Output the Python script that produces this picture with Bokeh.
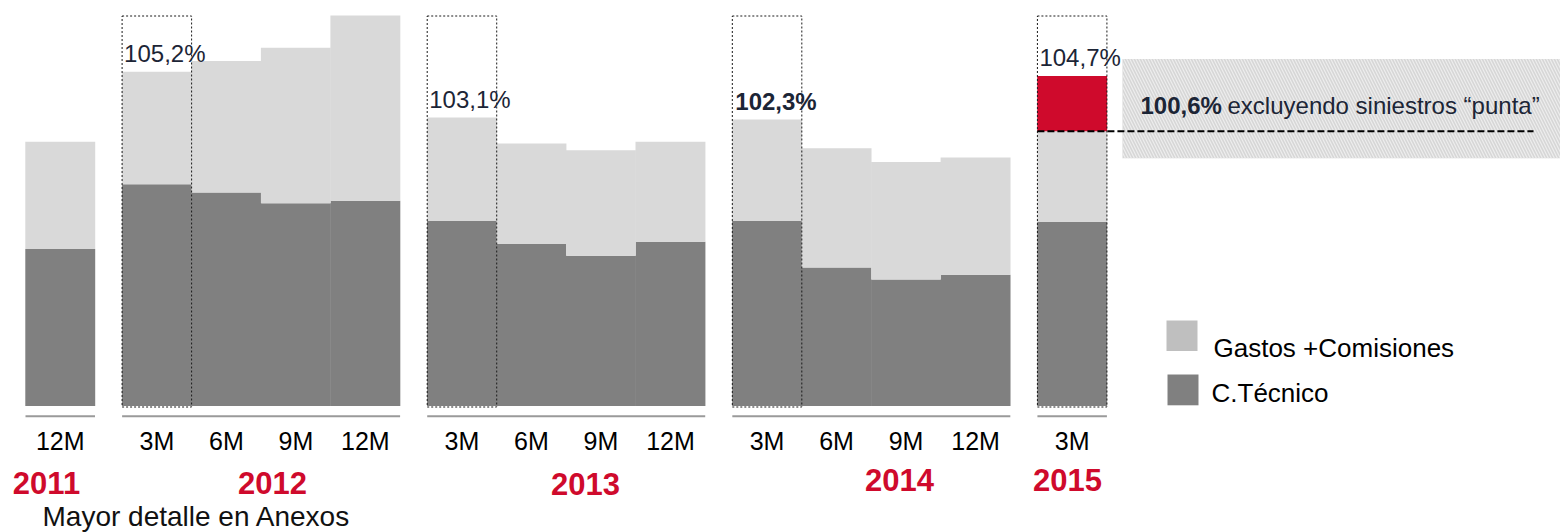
from bokeh.plotting import figure
from bokeh.models import ColumnDataSource, Range1d
from bokeh.embed import file_html
from bokeh.resources import INLINE
from bokeh.core.properties import value

# ---------------- data ----------------
years = ["2011", "2012", "2013", "2014", "2015"]
periods = [["12M"], ["3M", "6M", "9M", "12M"], ["3M", "6M", "9M", "12M"],
           ["3M", "6M", "9M", "12M"], ["3M"]]
c_tecnico = [49.4, 69.8, 67.2, 63.8, 64.6, 58.2, 51.0, 47.3, 51.7,
             58.2, 43.6, 39.8, 41.3, 58.0]
gastos_comisiones = [33.8, 35.4, 41.4, 49.0, 58.3, 32.6, 31.6, 33.2, 31.5,
                     32.0, 37.5, 37.0, 36.9, 28.5]
siniestros_punta = [0, 0, 0, 0, 0, 0, 0, 0, 0, 0, 0, 0, 0, 17.4]
highlighted = [("2012", "3M"), ("2013", "3M"), ("2014", "3M"), ("2015", "3M")]
ratio_labels = ["105,2%", "103,1%", "102,3%", "104,7%"]
ratio_bold = [False, False, True, False]
excl_level = 86.5
excl_bold = "100,6%"
excl_text = "excluyendo siniestros \u201cpunta\u201d"
legend_labels = ["Gastos +Comisiones", "C.T\u00e9cnico"]
footnote = "Mayor detalle en Anexos"

# ---------------- style / layout ----------------
DARK = "#808080"
LIGHT = "#d9d9d9"
RED = "#cf0a2c"
LEG_LIGHT = "#bfbfbf"
NAVY = "#1c2536"
FONT = value("Liberation Sans")
W, H, OFF = 1560, 532, 0
REF_X0, SX = 25.0, 69.5        # reference pixel of x=0, pixels per bar
BASE_Y, SY = 405.5, 3.177      # reference pixel of y=0, pixels per percent
GAP = 0.39


def fx(px):
    return (px - REF_X0) / SX


def fy(py):
    return (BASE_Y - py) / SY


# bar positions from the category structure
x_centers, bar_year, bar_period, group_bounds = [], [], [], []
pos = 0.0
for yr, per in zip(years, periods):
    start = pos
    for pr in per:
        x_centers.append(pos + 0.5)
        bar_year.append(yr)
        bar_period.append(pr)
        pos += 1.0
    group_bounds.append((start, pos))
    pos += GAP

src = ColumnDataSource(dict(x=x_centers, tecnico=c_tecnico,
                            gastos=gastos_comisiones, punta=siniestros_punta,
                            period=bar_period))

p = figure(width=W, height=H, output_backend="svg", toolbar_location=None,
           x_range=Range1d(fx(OFF), fx(OFF + W)),
           y_range=Range1d(fy(OFF + H), fy(OFF)),
           min_border=0, outline_line_color=None)
p.axis.visible = False
p.grid.visible = False
p.background_fill_color = "white"
p.border_fill_color = "white"

# hatched note box
p.quad(left=[fx(1122)], right=[fx(1575)], bottom=[fy(157.8)], top=[fy(58.4)],
       fill_color="#d6d6d6", line_color=None, hatch_pattern="\\",
       hatch_color="#ededed", hatch_scale=6, hatch_weight=1.2)

# stacked bars
p.vbar_stack(["tecnico", "gastos", "punta"], x="x", width=1.006, source=src,
             fill_color=[DARK, LIGHT, RED], line_color=None)

# dotted frames and ratio labels on highlighted bars
hx, htot = [], []
for (yr, pr) in highlighted:
    for i in range(len(x_centers)):
        if bar_year[i] == yr and bar_period[i] == pr:
            hx.append(x_centers[i])
            htot.append(c_tecnico[i] + gastos_comisiones[i] + siniestros_punta[i])
p.quad(left=[x - 0.5 for x in hx], right=[x + 0.5 for x in hx],
       bottom=fy(406.5), top=fy(15.5), fill_color=None, line_color="#1a1a1a",
       line_width=1, line_dash="2 2")

lab_norm = dict(x=[x - 0.5 for x, b in zip(hx, ratio_bold) if not b],
                y=[t for t, b in zip(htot, ratio_bold) if not b],
                t=[l for l, b in zip(ratio_labels, ratio_bold) if not b])
lab_bold = dict(x=[x - 0.5 for x, b in zip(hx, ratio_bold) if b],
                y=[t for t, b in zip(htot, ratio_bold) if b],
                t=[l for l, b in zip(ratio_labels, ratio_bold) if b])
p.text(x="x", y="y", text="t", source=ColumnDataSource(lab_norm),
       x_offset=2, y_offset=-18, text_font=FONT, text_font_size="24px",
       text_color=NAVY, text_baseline="middle", text_align="left")
p.text(x="x", y="y", text="t", source=ColumnDataSource(lab_bold),
       x_offset=3, y_offset=-18, text_font=FONT, text_font_size="24px",
       text_font_style="bold", text_color=NAVY, text_baseline="middle",
       text_align="left")

# dashed "excluding peak claims" level
last_left = x_centers[-1] - 0.5
p.segment(x0=[last_left], y0=[excl_level], x1=[fx(1533)], y1=[excl_level],
          line_color="black", line_width=2, line_dash="7 3")
p.text(x=[fx(1140)], y=[fy(105)], text=[excl_bold], text_font=FONT,
       text_font_size="24px", text_font_style="bold", text_color=NAVY,
       text_baseline="middle")
p.text(x=[fx(1227)], y=[fy(105)], text=[excl_text], text_font=FONT,
       text_font_size="24px", text_color=NAVY, text_baseline="middle")

# group baselines
p.segment(x0=[a for a, b in group_bounds], x1=[b for a, b in group_bounds],
          y0=fy(415.7), y1=fy(415.7), line_color="#9a9a9a", line_width=2)

# period labels
p.text(x="x", y=fy(440), text="period", source=src, text_font=FONT,
       text_font_size="25px", text_color="black", text_align="center",
       text_baseline="middle")

# year labels
year_px = [46, 272, 585, 899, 1067]
year_py = [482, 482, 483, 479, 479]
p.text(x=[fx(v) for v in year_px], y=[fy(v) for v in year_py], text=years,
       text_font=FONT, text_font_size="31px", text_font_style="bold",
       text_color=RED, text_align="center", text_baseline="middle")

# footnote
p.text(x=[fx(42)], y=[fy(516)], text=[footnote], text_font=FONT,
       text_font_size="28px", text_color="#111111", text_baseline="middle")

# legend
p.quad(left=[fx(1166), fx(1167)], right=[fx(1197), fx(1198)],
       bottom=[fy(350.5), fy(404.8)], top=[fy(320), fy(374)],
       fill_color=[LEG_LIGHT, DARK], line_color=None)
p.text(x=[fx(1213), fx(1211)], y=[fy(347), fy(392)], text=legend_labels,
       text_font=FONT, text_font_size="26px", text_color="black",
       text_baseline="middle")

open("out.html", "w").write(file_html(p, INLINE))
